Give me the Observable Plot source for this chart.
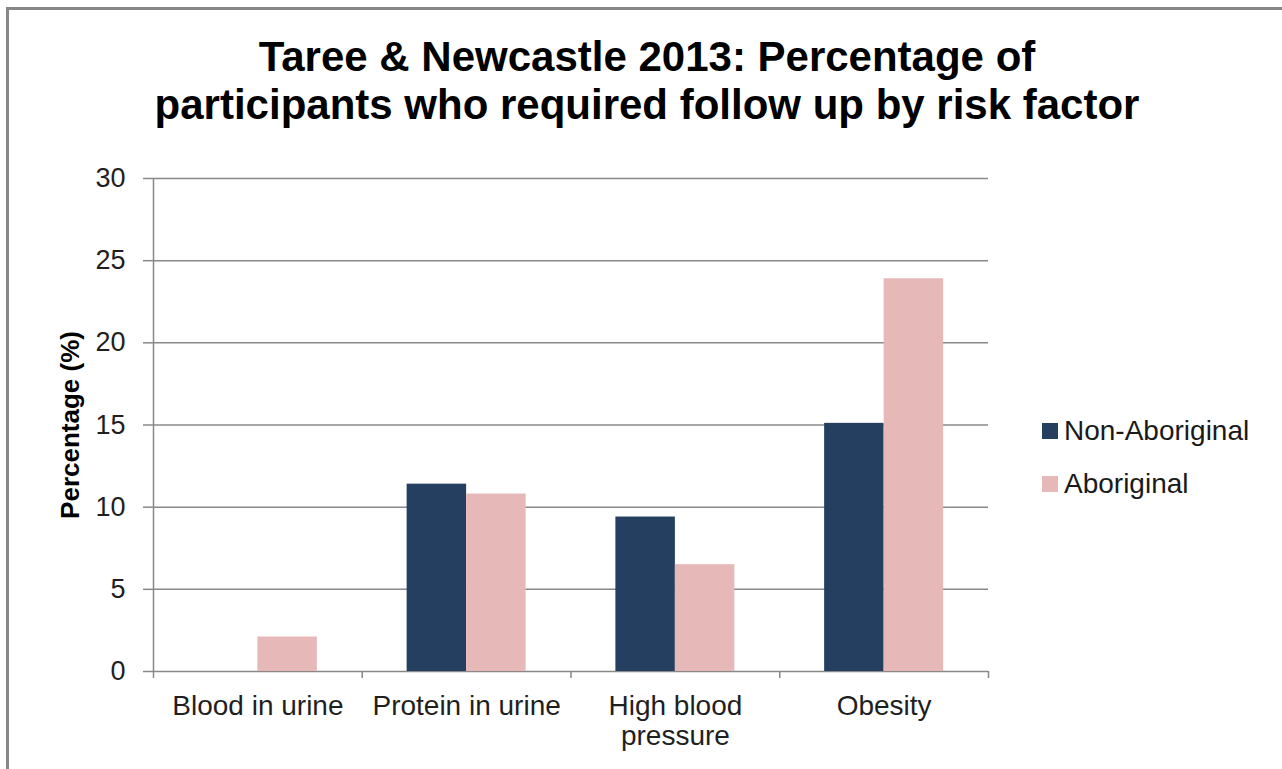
<!DOCTYPE html>
<html>
<head>
<meta charset="utf-8">
<script src="https://cdn.jsdelivr.net/npm/d3@7"></script>
<script src="https://cdn.jsdelivr.net/npm/@observablehq/plot@0.6"></script>
<style>
  html, body { margin: 0; padding: 0; background: #fff; overflow: hidden; }
  body { width: 1282px; height: 769px; position: relative; font-family: "Liberation Sans", Arial, sans-serif; }
  #frame { position: absolute; left: 6px; top: 7px; width: 1400px; height: 900px; border: 3px solid #878787; box-sizing: border-box; z-index: 3; pointer-events: none; }
  #title { position: absolute; left: 0; top: 33px; width: 1294px; text-align: center; font-weight: bold; font-size: 42px; line-height: 48px; color: #000; }
  #chart { position: absolute; left: 0; top: 150px; }
  .item { position: absolute; left: 1042px; font-size: 28px; color: #1a1a1a; height: 32px; line-height: 32px; white-space: nowrap; }
  .sw { display: inline-block; width: 16px; height: 16px; vertical-align: middle; margin-right: 6px; position: relative; top: -2px; }
</style>
</head>
<body>
<div id="title">Taree &amp; Newcastle 2013: Percentage of<br>participants who required follow up by risk factor</div>
<div id="chart"></div>
<div id="legend"></div>
<div id="frame"></div>
<script>
const categories = ["Blood in urine", "Protein in urine", "High blood\npressure", "Obesity"];
const series = ["Non-Aboriginal", "Aboriginal"];
const nonAboriginal = [0, 11.4, 9.4, 15.1];
const aboriginal = [2.1, 10.8, 6.5, 23.9];
const yTicks = [0, 5, 10, 15, 20, 25, 30];
const colors = ["#253f60", "#e6b9b8"];

const rows = categories.flatMap((c, i) => [
  {cat: c, idx: i, series: series[0], value: nonAboriginal[i]},
  {cat: c, idx: i, series: series[1], value: aboriginal[i]}
]);

const gray = "#888888";
const font = "'Liberation Sans', Arial, sans-serif";

const chart = Plot.plot({
  width: 1282,
  height: 619,
  marginTop: 28,
  marginBottom: 98,
  marginLeft: 153,
  marginRight: 294,
  style: {fontFamily: font, background: "transparent"},
  x: {domain: [0, categories.length], axis: null},
  y: {domain: [0, 30], axis: null},
  color: {domain: series, range: colors},
  marks: [
    Plot.ruleY(yTicks, {stroke: gray, strokeWidth: 1.5}),
    Plot.rectY(rows, {
      x1: d => d.idx + (d.series === series[0] ? 0.215 : 0.5),
      x2: d => d.idx + (d.series === series[0] ? 0.5 : 0.785),
      y1: 0,
      y2: "value",
      fill: "series"
    }),
    Plot.ruleX([0], {stroke: gray, strokeWidth: 1.5}),
    Plot.axisY(yTicks, {tickSize: 10, tickPadding: 18, fontSize: 27, stroke: gray, strokeWidth: 1.5, fill: "#1f1f1f", label: null}),
    Plot.axisX(d3.range(categories.length + 1), {tickSize: 7, tickFormat: () => "", stroke: gray, strokeWidth: 1.5, label: null}),
    Plot.text(categories, {
      x: (d, i) => i + 0.5,
      text: d => d,
      frameAnchor: "bottom",
      dy: 22,
      lineAnchor: "top",
      lineHeight: 1.08,
      fontSize: 28,
      fill: "#1f1f1f"
    }),
    Plot.text(["Percentage (%)"], {
      text: d => d,
      frameAnchor: "left",
      textAnchor: "middle",
      lineAnchor: "middle",
      dx: -83,
      rotate: -90,
      fontSize: 26,
      fontWeight: "bold",
      fill: "#000"
    })
  ]
});
document.getElementById("chart").appendChild(chart);

const legend = document.getElementById("legend");
const legendTops = [415, 468];
series.forEach((s, i) => {
  const div = document.createElement("div");
  div.className = "item";
  div.style.top = legendTops[i] + "px";
  const sw = document.createElement("span");
  sw.className = "sw";
  sw.style.background = colors[i];
  div.appendChild(sw);
  div.appendChild(document.createTextNode(s));
  legend.appendChild(div);
});
</script>
</body>
</html>
